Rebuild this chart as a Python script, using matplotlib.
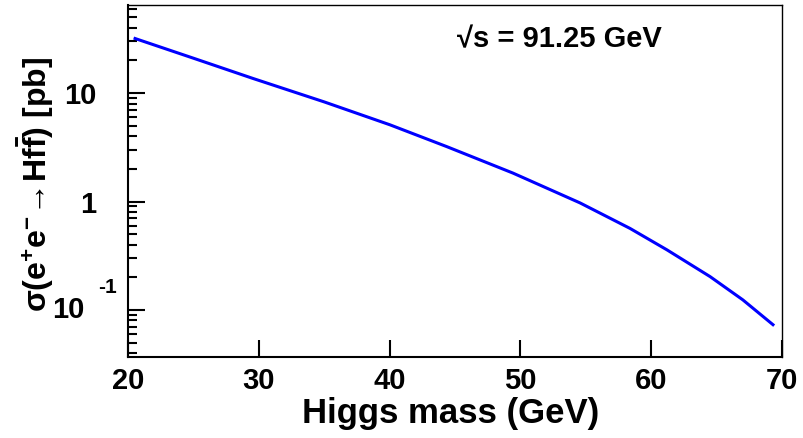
import matplotlib
matplotlib.use("Agg")
import matplotlib.pyplot as plt
import numpy as np

# Data (Higgs mass in GeV, cross section in pb)
higgs_mass = [20.54, 25.0, 29.56, 35.0, 40.03, 44.37, 49.43, 54.56, 58.38, 61.21, 64.50, 67.0, 69.31]
cross_section = [31.9, 21.0, 13.65, 8.3, 5.1, 3.21, 1.83, 0.971, 0.565, 0.358, 0.203, 0.124, 0.0731]

x_ticks = [20, 30, 40, 50, 60, 70]
x_tick_labels = ["20", "30", "40", "50", "60", "70"]
y_major = [0.1, 1, 10]
y_tick_labels = ["", "1", "10"]
energy_label = "\u221as = 91.25 GeV"
x_title = "Higgs mass (GeV)"
y_title = r"$\mathsf{\sigma}$(e$^{+}$e$^{-}\!\rightarrow\!$Hf$\bar{\mathrm{f}}$) [pb]"

plt.rcParams["font.family"] = ["Liberation Sans", "DejaVu Sans"]
plt.rcParams["font.weight"] = "bold"
plt.rcParams["mathtext.fontset"] = "custom"
plt.rcParams["mathtext.rm"] = "Liberation Sans:bold"
plt.rcParams["mathtext.it"] = "Liberation Sans:bold"
plt.rcParams["mathtext.bf"] = "Liberation Sans:bold"
plt.rcParams["mathtext.sf"] = "Liberation Sans"

fig = plt.figure(figsize=(8.04, 4.38), dpi=100)
ax = fig.add_axes([128/804, 1-357/438, (782-128)/804, (357-5)/438])

ax.plot(higgs_mass, cross_section, color=(0, 0, 1), lw=2.2)
ax.set_yscale("log")
ax.set_xlim(20, 70)
ax.set_ylim(0.0368, 65)

ax.set_xticks(x_ticks)
ax.set_xticklabels(x_tick_labels, fontsize=21, fontweight="bold")
ax.set_yticks(y_major)
ax.set_yticklabels(y_tick_labels, fontsize=21, fontweight="bold")
ax.yaxis.set_minor_locator(matplotlib.ticker.LogLocator(base=10, subs=np.arange(2, 10)))
ax.yaxis.set_minor_formatter(matplotlib.ticker.NullFormatter())
ax.xaxis.set_minor_locator(matplotlib.ticker.NullLocator())

ax.tick_params(axis="both", which="major", direction="in", length=12, width=1.5,
               top=False, right=False)
ax.tick_params(axis="y", which="minor", direction="in", length=6.5, width=1.5, right=False)
ax.tick_params(axis="x", which="major", pad=7)
ax.tick_params(axis="y", which="major", pad=23)

for s in ["left", "bottom"]:
    ax.spines[s].set_linewidth(1.5)
for s in ["top", "right"]:
    ax.spines[s].set_linewidth(1.0)

# 10^-1 label in ROOT style
tr = ax.get_yaxis_transform()
ax.annotate("10", xy=(0, 0.1), xycoords=tr, xytext=(-31, 0), textcoords="offset points",
            ha="right", va="center", fontsize=21, fontweight="bold")
ax.annotate("-1", xy=(0, 0.1), xycoords=tr, xytext=(-8, 16.5), textcoords="offset points",
            ha="right", va="center", fontsize=15, fontweight="bold")

fig.text(451/804, 1-423/438, x_title, ha="center", va="baseline", fontsize=25, fontweight="bold")
fig.text(36/804, 1-184/438, y_title, rotation=90, ha="center", va="center",
         fontsize=23, fontweight="bold")
fig.text(457/804, 1-47/438, energy_label, ha="left", va="baseline", fontsize=21, fontweight="bold")

fig.savefig("out.png", dpi=100)
